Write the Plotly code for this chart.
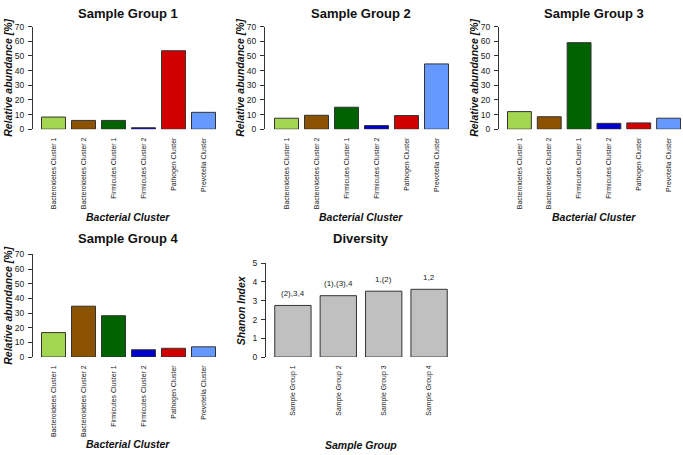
import plotly.graph_objects as go

W, H = 683, 455

clusters = ["Bacteroidetes Cluster 1", "Bacteroidetes Cluster 2", "Firmicutes Cluster 1",
            "Firmicutes Cluster 2", "Pathogen Cluster", "Prevotella Cluster"]
cluster_colors = ["#A4D652", "#8B5300", "#006200", "#0000CC", "#D00000", "#6699FF"]

group1 = [8.3, 6.0, 6.0, 1.0, 53.5, 11.5]
group2 = [7.5, 9.5, 15.0, 2.5, 9.3, 44.5]
group3 = [12.0, 8.5, 59.0, 4.0, 4.3, 7.5]
group4 = [16.7, 34.7, 28.2, 5.0, 6.0, 7.0]

groups = ["Sample Group 1", "Sample Group 2", "Sample Group 3", "Sample Group 4"]
shannon = [2.75, 3.27, 3.51, 3.61]
sig_labels = ["(2),3,4", "(1),(3),4", "1,(2)", "1,2"]

abund_ticks = [0, 10, 20, 30, 40, 50, 60, 70]
shannon_ticks = [0, 1, 2, 3, 4, 5]

BARGAP = 0.167
FONT = "Liberation Sans, Arial, sans-serif"
EDGE = "#333333"

# panel layout in pixels: axis_x, bar_left, bar_right, dom_right, y_top, y_bottom, title centre x
panels = [
    dict(ax=33, bl=41, br=216, dr=223, yt=22, yb=127, cx=128),
    dict(ax=265, bl=274, br=449, dr=456, yt=22, yb=127, cx=361),
    dict(ax=499, bl=507, br=681, dr=683, yt=22, yb=127, cx=594),
    dict(ax=33, bl=41, br=216, dr=223, yt=255, yb=360, cx=128),
    dict(ax=266, bl=274, br=448, dr=456, yt=264, yb=360, cx=361),
]


def xrange_for(p, n):
    w = 1 - BARGAP
    ppu = (p["br"] - p["bl"]) / ((n - 1) + w)
    left = -w / 2 - (p["bl"] - p["ax"]) / ppu
    right = (n - 1) + w / 2 + (p["dr"] - p["br"]) / ppu
    return [left, right]


fig = go.Figure()
layout = dict(width=W, height=H, margin=dict(l=0, r=0, t=0, b=0),
              paper_bgcolor="white", plot_bgcolor="white", showlegend=False,
              font=dict(family=FONT, color="#222222"))
annotations = []

datasets = [group1, group2, group3, group4]
titles = ["Sample Group 1", "Sample Group 2", "Sample Group 3", "Sample Group 4", "Diversity"]
title_y = [9, 9, 9, 239, 239]
xtitle_y = [217, 217, 217, 449, 450]

for i, p in enumerate(panels):
    k = "" if i == 0 else str(i + 1)
    xa, ya = "x" + k, "y" + k
    if i < 4:
        cats, vals, cols = clusters, datasets[i], cluster_colors
        yr, yt = [0, 70], abund_ticks
        ytitle, xtitle = "Relative abundance [%]", "Bacterial Cluster"
    else:
        cats, vals, cols = groups, shannon, ["#C0C0C0"] * 4
        yr, yt = [0, 5], shannon_ticks
        ytitle, xtitle = "Shanon Index", "Sample Group"
    fig.add_trace(go.Bar(x=cats, y=vals, marker=dict(color=cols, line=dict(color=EDGE, width=1)),
                         xaxis=xa, yaxis=ya, hoverinfo="x+y", cliponaxis=False))
    dom_x = [p["ax"] / W, p["dr"] / W]
    dom_y = [1 - p["yb"] / H, 1 - p["yt"] / H]
    layout["xaxis" + k] = dict(domain=dom_x, anchor=ya, range=xrange_for(p, len(cats)),
                               type="category", showline=False, ticks="", showgrid=False,
                               tickangle=-90, tickfont=dict(size=6.9, color="#222222"),
                               ticklabelstandoff=6, zeroline=False, fixedrange=True)
    layout["yaxis" + k] = dict(domain=dom_y, anchor=xa, range=yr, tickvals=yt,
                               showline=True, linecolor=EDGE, linewidth=1, ticks="outside",
                               ticklen=4, tickcolor=EDGE, showgrid=False, zeroline=False,
                               tickfont=dict(size=8.5, color="#222222"), ticklabelstandoff=2)
    cx = p["cx"] / W
    annotations.append(dict(text="<b>%s</b>" % titles[i], x=cx, y=1 - title_y[i] / H,
                            xref="paper", yref="paper", showarrow=False,
                            font=dict(size=13, color="#111111"), xanchor="center", yanchor="middle"))
    annotations.append(dict(text="<b><i>%s</i></b>" % ytitle, x=(p["ax"] - 25) / W,
                            y=1 - (p["yt"] + p["yb"]) / 2 / H, xref="paper", yref="paper",
                            showarrow=False, textangle=-90, font=dict(size=10.5, color="#111111"),
                            xanchor="center", yanchor="middle"))
    annotations.append(dict(text="<b><i>%s</i></b>" % xtitle, x=cx,
                            y=1 - xtitle_y[i] / H, xref="paper", yref="paper",
                            showarrow=False, font=dict(size=10.5, color="#111111"),
                            xanchor="center", yanchor="middle"))

for g, v, t in zip(groups, shannon, sig_labels):
    annotations.append(dict(text=t, x=g, y=v, xref="x5", yref="y5", yshift=12,
                            showarrow=False, font=dict(size=8, color="#222222"),
                            xanchor="center", yanchor="middle"))

layout["annotations"] = annotations
fig.update_layout(**layout)
fig.write_html("out.html", config={"displayModeBar": False},
               post_script="document.body.style.margin='0';document.body.style.overflow='hidden';")
